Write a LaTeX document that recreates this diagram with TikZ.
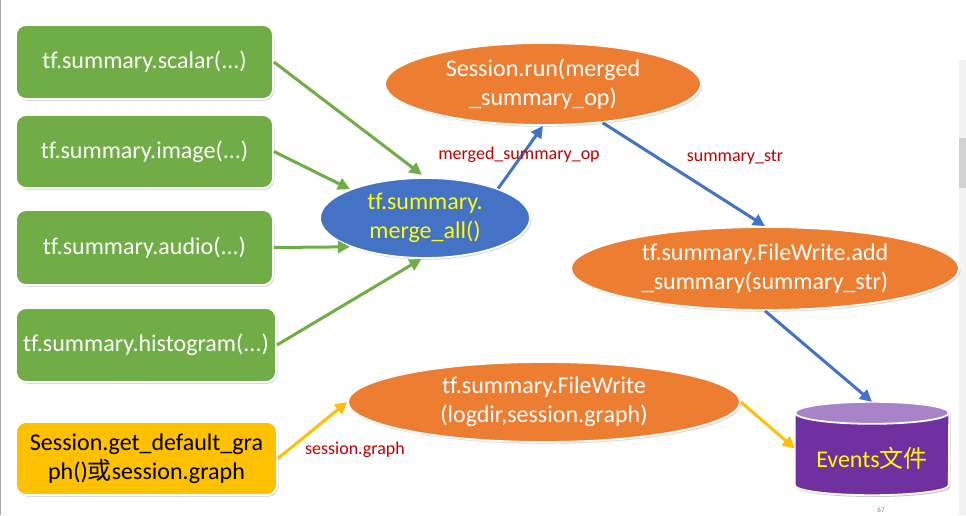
\documentclass[tikz,border=0pt]{standalone}
\usepackage{fontspec}
\setmainfont{Carlito}[Ligatures=CommonOff]
\newfontfamily\cjk{Noto Sans CJK SC}
\usetikzlibrary{shapes.geometric,arrows.meta,shadows}
\definecolor{cgreen}{HTML}{70AD47}
\definecolor{corange}{HTML}{ED7D31}
\definecolor{cblue}{HTML}{4472C4}
\definecolor{cyellow}{HTML}{FFC000}
\definecolor{cpurple}{HTML}{7030A0}
\definecolor{cpurpletop}{HTML}{A883C8}
\definecolor{cred}{HTML}{C00000}
\definecolor{ctext}{HTML}{FFFF00}
\begin{document}
\begin{tikzpicture}[x=1pt,y=1pt,
  shade/.style={drop shadow={opacity=0.28, shadow xshift=1.5pt, shadow yshift=-1.8pt}},
  box/.style={rectangle, rounded corners=10pt, draw=white, line width=1.8pt, fill=cgreen,
    text=white, font=\fontsize{24}{29}\selectfont, inner sep=0pt, align=center,
    minimum width=257pt, shade},
  ell/.style={ellipse, draw=white, line width=1.8pt, fill=corange, text=white,
    font=\fontsize{24}{29}\selectfont, inner sep=0pt, align=center, shade},
  arr/.style={line width=3pt, -{Triangle[length=12pt,width=12pt]}},
  lab/.style={text=cred, font=\fontsize{18}{20}\selectfont, inner sep=0pt}
]
\useasboundingbox (0,0) rectangle (966,515);
\fill[white] (0,0) rectangle (966,515);
\draw[gray!70, line width=1pt] (0.8,0) -- (0.8,515);
\fill[gray!10] (959,0) rectangle (966,455);
\fill[gray!35] (959,327) rectangle (966,377);

% boxes
\node[box, minimum height=74pt] (b1) at (144.5,453) {tf.summary.scalar(...)};
\node[box, minimum height=73pt] (b2) at (144.5,363.5) {tf.summary.image(...)};
\node[box, minimum height=75pt] (b3) at (144.5,267.5) {tf.summary.audio(...)};
\node[box, minimum height=74pt, minimum width=260pt] (b4) at (146,170) {tf.summary.histogram(...)};
\node[box, minimum height=73pt, minimum width=261pt, fill=cyellow, text=black] (yb) at (146.5,56.5)
  {Session.get\_default\_gra\\ph(){\cjk 或}session.graph};

% ellipses
\node[ell, fill=cblue, text=ctext, minimum width=210pt, minimum height=80pt] (merge) at (425,297)
  {tf.summary.\\merge\_all()};
\node[ell, minimum width=316pt, minimum height=82pt] (run) at (543,431)
  {Session.run(merged\\\_summary\_op)};
\node[ell, minimum width=388pt, minimum height=83pt] (add) at (765,246.5)
  {tf.summary.FileWrite.add\\\_summary(summary\_str)};
\node[ell, minimum width=392pt, minimum height=80pt] (write) at (544,113)
  {tf.summary.FileWrite\\(logdir,session.graph)};

% cylinder
\node[rectangle, inner sep=0pt, minimum width=154pt, minimum height=93pt] (cyl) at (872,66.5) {};
\fill[black, opacity=0.22] ([xshift=1.5pt,yshift=-12.8pt]cyl.north west) -- ([xshift=1.5pt,yshift=8.2pt]cyl.south west)
  arc[start angle=180, end angle=360, x radius=77pt, y radius=10pt]
  -- ([xshift=1.5pt,yshift=-12.8pt]cyl.north east)
  arc[start angle=0, end angle=180, x radius=77pt, y radius=11pt] -- cycle;
\filldraw[fill=cpurple, draw=white, line width=1.8pt] ([yshift=-11pt]cyl.north west) -- ([yshift=10pt]cyl.south west)
  arc[start angle=180, end angle=360, x radius=77pt, y radius=10pt]
  -- ([yshift=-11pt]cyl.north east)
  arc[start angle=0, end angle=180, x radius=77pt, y radius=11pt] -- cycle;
\filldraw[fill=cpurpletop, draw=white, line width=1.8pt] ([yshift=-11pt]cyl.north) ellipse[x radius=77pt, y radius=11pt];
\node[text=ctext, font=\fontsize{24}{29}\selectfont, inner sep=0pt] (cyltext) at ([yshift=-10pt]cyl.center) {Events{\cjk 文件}};

% connectors
\draw[arr, cgreen, shorten >=4pt] (b1.east) -- (merge.north);
\draw[arr, cgreen] (b2.east) -- (merge.159);
\draw[arr, cgreen] (b3.east) -- (merge.201);
\draw[arr, cgreen] (b4.east) -- (merge.265);
\draw[arr, cblue] (merge.22) -- (run.south);
\draw[arr, cblue] (run.327) -- (add.north);
\draw[arr, cblue] (add.south) -- (cyl.north);
\draw[arr, cyellow] (yb.east) -- (write.west);
\draw[arr, cyellow] (write.east) -- (cyl.west);

% labels
\node[lab] (l1) at (519,360) {merged\_summary\_op};
\node[lab] (l2) at (735,358) {summary\_str};
\node[lab] (l3) at (355,65) {session.graph};
\node[text=gray, font=\fontsize{7}{8}\selectfont, inner sep=0pt] (pg) at (881,5) {67};
\end{tikzpicture}
\end{document}
